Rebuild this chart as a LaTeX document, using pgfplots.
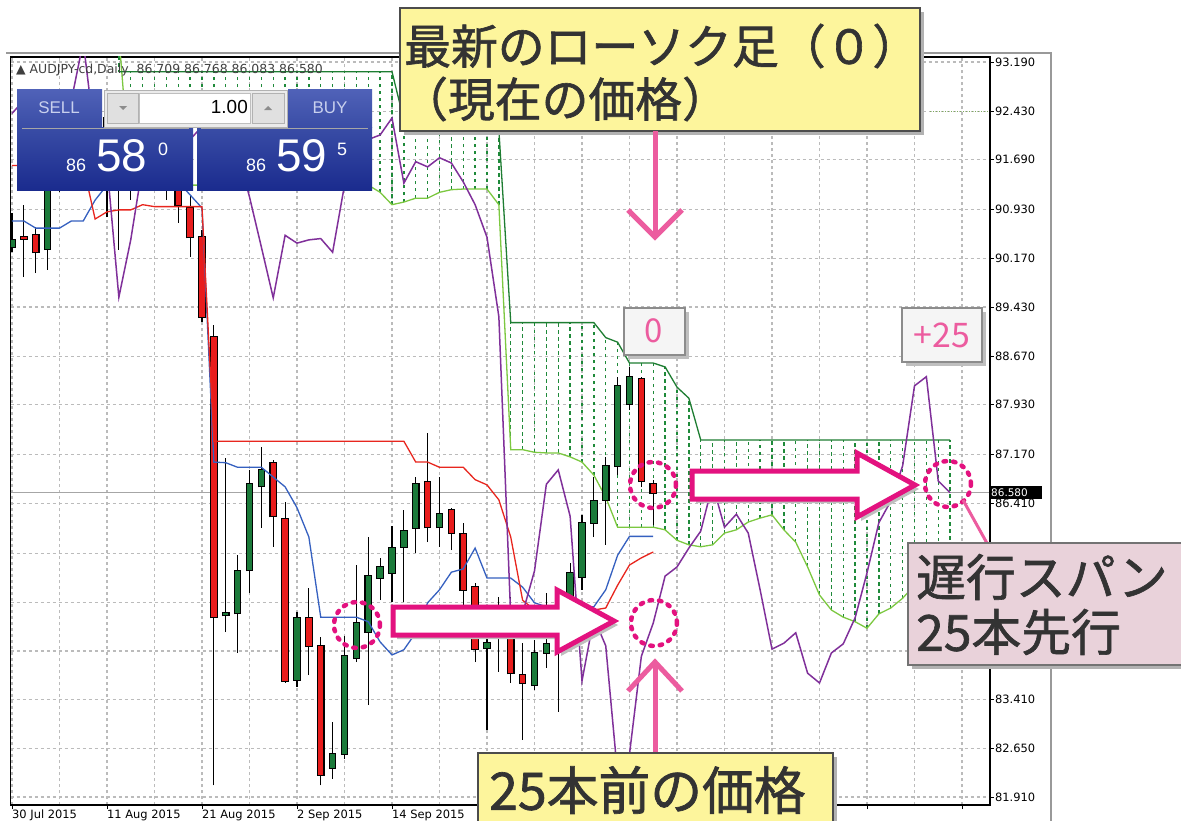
\documentclass[border=0pt]{standalone}
\usepackage{pgfplots}
\pgfplotsset{compat=1.18}
\usepackage{pgfplotstable}
\usepackage{fontspec}
\setmainfont{DejaVu Sans}
\newfontfamily\cjk[FakeBold=1.3]{Noto Sans CJK JP}
\newfontfamily\cjkr{Noto Sans CJK JP}
\newfontfamily\arialf{Liberation Sans}

\definecolor{gridc}{HTML}{BBBBBB}
\definecolor{candleG}{HTML}{1B7A3A}
\definecolor{candleR}{HTML}{E81C1C}
\definecolor{tenkan}{HTML}{3560C0}
\definecolor{kijun}{HTML}{E8261E}
\definecolor{chikou}{HTML}{80309A}
\definecolor{spanA}{HTML}{7CC840}
\definecolor{spanB}{HTML}{1E7D32}
\definecolor{hatch}{HTML}{1F8A3A}
\definecolor{magent}{HTML}{E3127F}
\definecolor{pinkarrow}{HTML}{EC5C9F}
\definecolor{yellowbox}{HTML}{FDF59C}
\definecolor{pinkbox}{HTML}{E9D2DA}
\definecolor{txtgray}{HTML}{333333}
\definecolor{panelTop}{HTML}{5062B8}
\definecolor{panelMid}{HTML}{3A4DA6}
\definecolor{panelBot}{HTML}{1A2B8E}
\definecolor{hdrtxt}{HTML}{C8D0EE}

% up candles: i O H L C
\pgfplotstableread{
i O H L C
0 90.35 90.87 90.27 90.46
3 90.32 91.45 90.00 91.30
4 91.30 91.85 91.20 91.70
5 91.70 92.15 91.55 92.00
6 92.00 92.25 91.85 92.07
7 92.07 92.50 91.95 92.33
9 91.33 91.80 90.31 91.66
11 91.58 91.90 91.40 91.72
18 84.70 87.11 84.44 84.73
19 84.73 85.63 84.12 85.38
20 85.39 86.93 85.04 86.71
21 86.68 87.28 86.04 86.93
24 83.71 84.75 83.60 84.66
27 82.36 83.06 82.19 82.57
28 82.57 84.38 82.49 84.07
29 84.04 85.47 83.98 84.58
30 84.44 85.90 83.32 85.30
31 85.27 85.58 84.93 85.44
32 85.35 86.07 84.90 85.73
33 85.75 86.32 84.90 85.99
34 86.04 86.82 85.66 86.71
36 86.05 86.82 85.75 86.25
40 84.20 84.63 82.94 84.27
41 84.35 84.98 83.83 84.43
44 83.63 84.32 83.55 84.12
45 84.12 85.04 83.89 84.26
46 84.55 84.96 83.22 84.66
47 84.98 85.50 84.75 85.35
48 85.29 86.24 85.09 86.12
49 86.12 86.82 85.90 86.45
50 86.47 87.13 85.78 86.99
51 86.99 88.36 86.85 88.22
52 87.94 88.51 87.85 88.36
}\upc

% down candles: i O H L C
\pgfplotstableread{
i O H L C
1 90.50 91.00 89.89 90.48
2 90.54 90.66 89.95 90.27
8 92.33 92.40 90.81 91.33
10 91.66 91.85 91.07 91.58
12 91.72 91.95 91.45 91.64
13 91.64 91.75 91.07 91.35
14 91.35 91.45 90.72 91.00
15 90.95 91.15 90.20 90.50
16 90.50 90.61 89.20 89.28
17 88.97 89.15 82.09 84.67
22 87.04 87.08 85.75 86.22
23 86.18 86.44 83.66 83.69
25 84.66 85.12 83.78 84.23
26 84.23 84.37 82.09 82.25
35 86.75 87.50 85.82 86.05
37 86.32 86.35 85.70 85.96
38 85.95 86.12 84.83 85.09
39 85.13 85.19 83.98 84.18
42 84.37 84.98 83.66 83.81
43 83.78 84.27 82.79 83.66
53 88.33 88.36 86.67 86.76
54 86.709 86.768 86.083 86.580
}\dnc

% tenkan (T) and kijun (K)
\pgfplotstableread{
i T K
0 90.75 91.60
1 90.75 91.60
2 90.64 91.60
3 90.64 91.60
4 90.64 91.60
5 90.75 91.60
6 90.75 91.60
7 91.07 90.78
8 91.30 90.89
9 91.35 90.92
10 91.40 90.92
11 91.40 91.00
12 91.40 90.97
13 91.40 90.97
14 91.35 90.97
15 91.15 90.97
16 90.95 90.97
17 87.05 87.37
18 87.04 87.37
19 86.97 87.37
20 86.97 87.37
21 86.97 87.37
22 86.82 87.37
23 86.67 87.37
24 86.35 87.37
25 85.90 87.37
26 84.67 87.37
27 84.67 87.37
28 84.67 87.37
29 84.67 87.37
30 84.60 87.37
31 84.29 87.37
32 84.09 87.37
33 84.17 87.37
34 84.43 87.05
35 84.89 87.05
36 85.09 86.97
37 85.36 86.97
38 85.41 86.97
39 85.73 86.78
40 85.27 86.70
41 85.27 86.47
42 85.27 85.90
43 85.13 84.93
44 84.89 84.78
45 84.83 84.78
46 84.83 84.78
47 84.83 84.78
48 84.83 84.78
49 84.83 84.78
50 85.09 84.81
51 85.62 85.16
52 85.91 85.47
53 85.91 85.58
54 85.91 85.67
}\tk

% chikou span, shifted 25 bars forward
\pgfplotstableread{
j P
0 92.40
1 92.60
2 92.30
3 92.70
4 92.50
5 92.60
6 93.50
7 92.00
8 91.61
9 89.58
10 90.46
11 91.60
12 91.90
13 92.10
14 92.30
15 92.00
16 92.20
17 92.40
18 92.10
19 91.80
20 91.12
21 90.35
22 89.57
23 90.53
24 90.41
25 90.46
26 90.48
27 90.27
28 91.30
29 91.70
30 92.00
31 92.07
32 92.33
33 91.33
34 91.66
35 91.58
36 91.72
37 91.64
38 91.35
39 91.00
40 90.50
41 89.28
42 84.67
43 84.73
44 85.38
45 86.71
46 86.93
47 86.22
48 83.69
49 84.66
50 84.23
51 82.25
52 82.57
53 84.07
54 84.58
55 85.30
56 85.44
57 85.73
58 85.99
59 86.71
60 86.05
61 86.25
62 85.96
63 85.09
64 84.18
65 84.27
66 84.43
67 83.81
68 83.66
69 84.12
70 84.26
71 84.66
72 85.35
73 86.12
74 86.45
75 86.99
76 88.22
77 88.36
78 86.76
79 86.58
}\chik

% senkou span A and B
\pgfplotstableread{
i A B
9 93.60 93.04
10 91.30 93.04
11 91.30 93.04
12 91.30 93.04
13 91.30 93.04
14 91.30 93.04
15 91.30 93.04
16 91.30 93.04
17 91.30 93.04
18 91.30 93.04
19 91.30 93.04
20 91.30 93.04
21 91.30 93.04
22 91.30 93.04
23 91.30 93.04
24 91.30 93.04
25 91.30 93.04
26 91.30 93.04
27 91.30 93.04
28 91.30 93.04
29 91.30 93.04
30 91.30 93.04
31 91.19 93.04
32 91.00 93.04
33 91.04 92.30
34 91.10 92.30
35 91.10 92.30
36 91.19 92.30
37 91.23 92.30
38 91.24 92.30
39 91.24 92.30
40 91.24 92.30
41 91.00 92.15
42 87.24 89.19
43 87.24 89.19
44 87.20 89.19
45 87.19 89.19
46 87.19 89.19
47 87.13 89.19
48 87.05 89.19
49 86.85 89.19
50 86.51 88.96
51 86.05 88.89
52 86.05 88.57
53 86.05 88.57
54 86.05 88.57
55 86.01 88.51
56 85.85 88.20
57 85.78 88.03
58 85.75 87.39
59 85.78 87.39
60 85.96 87.39
61 86.01 87.39
62 86.13 87.39
63 86.19 87.39
64 86.24 87.39
65 86.01 87.39
66 85.82 87.39
67 85.44 87.39
68 85.01 87.39
69 84.78 87.39
70 84.67 87.39
71 84.60 87.39
72 84.50 87.39
73 84.72 87.39
74 84.81 87.39
75 84.96 87.39
76 85.16 87.39
77 85.39 87.39
78 85.62 87.39
79 85.75 87.39
}\cloud

\pgfplotsset{
  vbar/.style 2 args={draw=none, mark=none, forget plot,
    error bars/.cd, y dir=plus, y explicit, error mark=none,
    error bar style={draw=#1, line width=#2, solid}},
}

\begin{document}
\begin{tikzpicture}
\useasboundingbox (0,0) rectangle (1181bp,-821bp);
\fill[white] (0,0) rectangle (1181bp,-821bp);
\begin{axis}[
  at={(10.8bp,-805bp)}, anchor=south west,
  x=11.875bp, y=65.16bp,
  xmin=-0.1, xmax=82.35, ymin=81.787, ymax=93.267,
  axis line style={black, line width=1.2bp},
  xtick={0,8,...,80},
  xticklabels={30 Jul 2015,11 Aug 2015,21 Aug 2015,2 Sep 2015,14 Sep 2015,{},{},{},{},{},{}},
  minor xtick={4,12,...,76},
  ytick={93.19,92.43,91.69,90.93,90.17,89.43,88.67,87.93,87.17,86.41,85.65,84.89,84.15,83.41,82.65,81.91},
  yticklabels={93.190,92.430,91.690,90.930,90.170,89.430,88.670,87.930,87.170,86.410,{},{},{},83.410,82.650,81.910},
  xtick pos=left, ytick pos=right,
  tick align=outside, major tick length=4bp, minor tick length=0pt,
  tick style={black, line width=0.8bp},
  grid=both,
  major grid style={gridc, dash pattern=on 3bp off 3bp, line width=1.1bp},
  minor grid style={gridc, dash pattern=on 3bp off 3bp, line width=1.1bp},
  xticklabel style={font=\fontsize{11.5}{13}\selectfont, anchor=north west, inner sep=1bp, xshift=-1bp},
  yticklabel style={font=\fontsize{11.5}{13}\selectfont, anchor=west, inner sep=1bp},
]
% current price line
\addplot[black!35, line width=1bp, forget plot] coordinates {(-1,86.58) (83,86.58)};
\addplot[spanA!60!gray, dotted, line width=1bp, forget plot] coordinates {(77.3,92.43) (82.35,92.43)};
% cloud hatch
\addplot[draw=none, mark=none, error bars/.cd, y dir=plus, y explicit, error mark=none,
  error bar style={draw=hatch, line width=1.3bp, dash pattern=on 3.5bp off 3.5bp}]
  table[x=i, y=A, y error plus expr=\thisrow{B}-\thisrow{A}] {\cloud};
\addplot[spanA, line width=1.3bp] table[x=i, y=A] {\cloud};
\addplot[spanB, line width=1.3bp] table[x=i, y=B] {\cloud};
% wicks
\addplot[vbar={black}{1.2bp}] table[x=i, y=L, y error plus expr=\thisrow{H}-\thisrow{L}] {\upc};
\addplot[vbar={black}{1.2bp}] table[x=i, y=L, y error plus expr=\thisrow{H}-\thisrow{L}] {\dnc};
% bodies
\addplot[vbar={black}{7.6bp}] table[x=i, y expr=\thisrow{O}-0.017, y error plus expr=\thisrow{C}-\thisrow{O}+0.034] {\upc};
\addplot[vbar={candleG}{5.4bp}] table[x=i, y=O, y error plus expr=\thisrow{C}-\thisrow{O}] {\upc};
\addplot[vbar={black}{7.6bp}] table[x=i, y expr=\thisrow{C}-0.017, y error plus expr=\thisrow{O}-\thisrow{C}+0.034] {\dnc};
\addplot[vbar={candleR}{5.4bp}] table[x=i, y=C, y error plus expr=\thisrow{O}-\thisrow{C}] {\dnc};
% lines
\addplot[tenkan, line width=1.3bp] table[x=i, y=T] {\tk};
\addplot[kijun, line width=1.3bp] table[x=i, y=K] {\tk};
\addplot[chikou, line width=1.5bp] table[x=j, y=P] {\chik};
\end{axis}

\begin{scope}[x=1bp, y=-1bp]
% window border
\draw[black!40, line width=1.5bp] (6,53) -- (1051,53) -- (1051,821);
% price label
\fill[black] (989,486) rectangle (1042,499);
\node[white, anchor=west, inner sep=0pt, font=\fontsize{10.5}{12}\selectfont] at (991,492.5) {86.580};
% title
\node[anchor=west, inner sep=0pt, text=black!75, font=\fontsize{12.5}{14}\selectfont] at (16,70) {▲ AUDJPY-cd,Daily\ \ 86.709 86.768 86.083 86.580};

% trading panel
\fill[top color=panelTop, bottom color=panelMid] (17,89) rectangle (102,127);
\fill[top color=panelTop, bottom color=panelMid] (288,89) rectangle (372,127);
\fill[top color=panelMid, bottom color=panelBot] (17,127) rectangle (193,190);
\fill[top color=panelMid, bottom color=panelBot] (197,127) rectangle (372,190);
\draw[black!35, line width=0.8bp] (22,128) -- (189,128);
\draw[black!35, line width=0.8bp] (201,128) -- (368,128);
\filldraw[fill=black!8, draw=black!30] (104,90) rectangle (287,127);
\filldraw[fill=white, draw=black!25] (139,93) rectangle (250,123);
\filldraw[fill=black!12, draw=black!30] (107,93) rectangle (138,123);
\filldraw[fill=black!12, draw=black!30] (252,93) rectangle (284,123);
\fill[black!45] (119,106) -- (127,106) -- (123,110) -- cycle;
\fill[black!45] (264,110) -- (272,110) -- (268,106) -- cycle;
\node[anchor=east, inner sep=0pt, font=\arialf\fontsize{19}{21}\selectfont] at (248,107) {1.00};
\node[text=hdrtxt, inner sep=0pt, font=\arialf\fontsize{17}{19}\selectfont] at (59,108) {SELL};
\node[text=hdrtxt, inner sep=0pt, font=\arialf\fontsize{17}{19}\selectfont] at (330,108) {BUY};
\node[white, anchor=base west, inner sep=0pt, font=\arialf\fontsize{18}{20}\selectfont] at (66,171) {86};
\node[white, anchor=base west, inner sep=0pt, font=\arialf\fontsize{46}{50}\selectfont] at (96,171) {58};
\node[white, anchor=base west, inner sep=0pt, font=\arialf\fontsize{18}{20}\selectfont] at (158,155) {0};
\node[white, anchor=base west, inner sep=0pt, font=\arialf\fontsize{18}{20}\selectfont] at (246,171) {86};
\node[white, anchor=base west, inner sep=0pt, font=\arialf\fontsize{46}{50}\selectfont] at (276,171) {59};
\node[white, anchor=base west, inner sep=0pt, font=\arialf\fontsize{18}{20}\selectfont] at (337,155) {5};

% top yellow box
\fill[black!30] (404,12) rectangle (924,135);
\filldraw[fill=yellowbox, draw=black!70, line width=1.5bp] (400,8) rectangle (920,131);
\node[anchor=west, inner sep=0pt, text=txtgray, font=\cjk\fontsize{47}{52}\selectfont] at (404,46) {最新のローソク足（０）};
\node[anchor=west, inner sep=0pt, text=txtgray, font=\cjk\fontsize{47}{52}\selectfont] at (401,99) {（現在の価格）};

% down arrow
\draw[pinkarrow, line width=5bp] (655,131) -- (655,234);
\draw[pinkarrow, line width=5bp, line join=miter] (628,210) -- (655,237) -- (682,210);

% gray number boxes
\fill[black!25] (628,312) rectangle (689,359);
\filldraw[fill=black!4, draw=black!45, line width=1.5bp] (624,308) rectangle (685,355);
\node[text=pinkarrow, font=\cjkr\fontsize{33}{36}\selectfont] at (654,331) {0};
\fill[black!25] (906,312) rectangle (986,366);
\filldraw[fill=black!4, draw=black!45, line width=1.5bp] (902,308) rectangle (982,362);
\node[text=pinkarrow, font=\cjkr\fontsize{34}{38}\selectfont] at (942,335) {+25};

% dotted circles
\foreach \cx/\cy in {357/625, 654/623, 653/485, 948/484}
  \draw[magent, line width=4.5bp, dash pattern=on 2.5bp off 7bp, line cap=round] (\cx,\cy) circle[radius=23bp];

% block arrows
\fill[black!25, shift={(4,4)}] (393,607) -- (557,607) -- (557,590) -- (614,621) -- (557,652) -- (557,635) -- (393,635) -- cycle;
\filldraw[fill=white, draw=magent, line width=5bp, line join=miter] (393,607) -- (557,607) -- (557,590) -- (614,621) -- (557,652) -- (557,635) -- (393,635) -- cycle;
\fill[black!25, shift={(4,4)}] (692,471) -- (857,471) -- (857,453) -- (915,485) -- (857,517) -- (857,499) -- (692,499) -- cycle;
\filldraw[fill=white, draw=magent, line width=5bp, line join=miter] (692,471) -- (857,471) -- (857,453) -- (915,485) -- (857,517) -- (857,499) -- (692,499) -- cycle;

% up arrow
\draw[pinkarrow, line width=5bp] (655,664) -- (655,753);
\draw[pinkarrow, line width=5bp, line join=miter] (628,691) -- (655,662) -- (682,691);

% bottom yellow box
\fill[black!30] (482,757) rectangle (837,840);
\filldraw[fill=yellowbox, draw=black!70, line width=1.5bp] (478,753) rectangle (833,840);
\node[anchor=west, inner sep=0pt, text=txtgray, font=\cjk\fontsize{52}{58}\selectfont] at (489,790) {25本前の価格};

% connector and pink box
\draw[pinkarrow, line width=3bp] (963,500) -- (988,545);
\fill[black!30] (912,547) rectangle (1200,669);
\filldraw[fill=pinkbox, draw=black!55, line width=1.5bp] (908,543) rectangle (1200,665);
\node[anchor=west, inner sep=0pt, text=txtgray, font=\cjk\fontsize{50}{56}\selectfont] at (916,577) {遅行スパン};
\node[anchor=west, inner sep=0pt, text=txtgray, font=\cjk\fontsize{50}{56}\selectfont] at (916,632) {25本先行};
\end{scope}
\end{tikzpicture}
\end{document}
